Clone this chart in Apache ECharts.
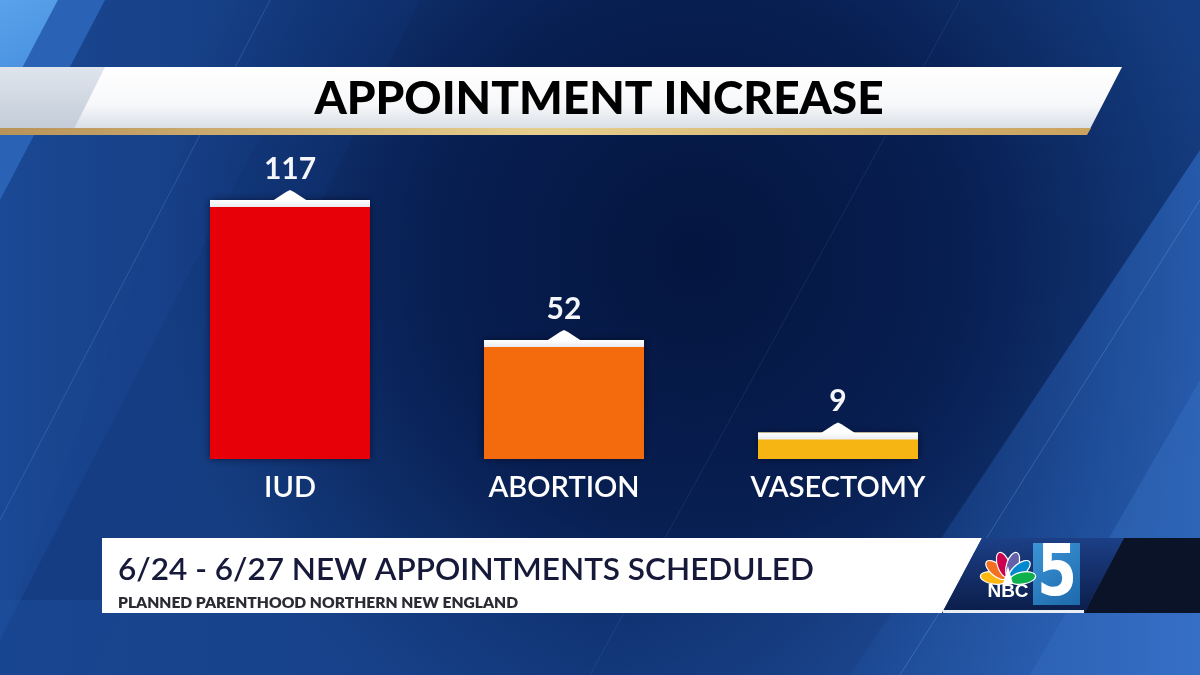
<!DOCTYPE html>
<html>
<head>
<meta charset="utf-8">
<title>Appointment Increase</title>
<script src="https://cdn.jsdelivr.net/npm/echarts/dist/echarts.min.js"></script>
<style>
  html, body { margin: 0; padding: 0; background: #0a2258; }
  #container { width: 1200px; height: 675px; }
</style>
</head>
<body>
<div id="container"></div>
<script>
var categories = ['IUD', 'ABORTION', 'VASECTOMY'];
var values = [117, 52, 9];
var barColors = ['#e80008', '#f36b0c', '#f7b514'];

var titleText = 'APPOINTMENT INCREASE';
var subTitleText = '6/24 - 6/27 NEW APPOINTMENTS SCHEDULED';
var sourceText = 'PLANNED PARENTHOOD NORTHERN NEW ENGLAND';

var LG = echarts.graphic.LinearGradient;
var RG = echarts.graphic.RadialGradient;

var myChart = echarts.init(document.getElementById('container'), null, { renderer: 'canvas' });

// bar with white cap and little peak on top
function renderBar(params, api) {
	var v = api.value(1);
	var top = api.coord([api.value(0), v]);
	var base = api.coord([api.value(0), 0]);
	var w = 160;
	var cx = top[0];
	var capH = 7;
	var capTop = top[1] - capH;
	return {
		type : 'group',
		children : [
			{
				type : 'rect',
				shape : { x : cx - w / 2, y : capTop, width : w, height : base[1] - capTop },
				style : { fill : barColors[params.dataIndex], shadowBlur : 8, shadowColor : 'rgba(0,0,20,0.55)' }
			},
			{
				type : 'rect',
				shape : { x : cx - w / 2, y : capTop, width : w, height : capH },
				style : { fill : new LG(0, 0, 0, 1, [{ offset : 0, color : '#ffffff' }, { offset : 1, color : '#e9ecf2' }]) }
			},
			{
				type : 'polygon',
				shape : { points : [[cx - 17, capTop + 0.5], [cx - 4, capTop - 8], [cx, capTop - 10], [cx + 4, capTop - 8], [cx + 17, capTop + 0.5]] },
				style : { fill : '#ffffff' }
			},
			{
				type : 'text',
				x : cx,
				y : capTop - 31,
				style : {
					text : String(v),
					fill : '#f4f6fa',
					fontFamily : 'Lato',
					fontWeight : 700,
					fontSize : 30,
					textAlign : 'center',
					textVerticalAlign : 'middle'
				}
			}
		]
	};
}

// NBC peacock feathers
var featherColors = ['#fcb711', '#f37021', '#cc004c', '#6460aa', '#0089d0', '#0db14b'];
var featherAngles = [-80, -50, -18, 18, 50, 80];
var peacock = [];
for (var i = 0; i < featherColors.length; i++) {
	var a = featherAngles[i] * Math.PI / 180;
	peacock.push({
		type : 'ellipse',
		x : 1008 + 15 * Math.sin(a),
		y : 581 - 17 * Math.cos(a),
		rotation : -a,
		shape : { cx : 0, cy : 0, rx : 6, ry : 13 },
		style : { fill : featherColors[i], stroke : '#ffffff', lineWidth : 1.2 },
		z : 5
	});
}
peacock.push({
	type : 'polygon',
	shape : { points : [[1003, 584], [1008, 566], [1013, 584]] },
	style : { fill : '#ffffff' },
	z : 6
});

var background = [
	{
		type : 'rect', z : -10, silent : true,
		shape : { x : 0, y : 0, width : 1200, height : 675 },
		style : { fill : new RG(0.58, 0.38, 0.8, [
			{ offset : 0, color : '#04153f' },
			{ offset : 0.5, color : '#081f52' },
			{ offset : 1, color : '#153e82' }
		]) }
	},
	// left stripes
	{
		type : 'polygon', z : -9, silent : true,
		shape : { points : [[100, 0], [330, 0], [0, 640], [0, 190]] },
		style : { fill : new LG(0, 0, 1, 0, [{ offset : 0, color : 'rgba(35,85,170,0.45)' }, { offset : 1, color : 'rgba(25,70,150,0.0)' }]) }
	},
	{
		type : 'polygon', z : -9, silent : true,
		shape : { points : [[240, 0], [420, 0], [90, 675], [0, 675], [0, 640]] },
		style : { fill : 'rgba(20,60,140,0.18)' }
	},
	{
		type : 'polygon', z : -8, silent : true,
		shape : { points : [[58, 0], [105, 0], [0, 200], [0, 110]] },
		style : { fill : '#2a63b6' }
	},
	{
		type : 'polygon', z : -8, silent : true,
		shape : { points : [[0, 0], [58, 0], [0, 110]] },
		style : { fill : new LG(0, 0, 1, 1, [{ offset : 0, color : '#5aa2ea' }, { offset : 1, color : '#3f88da' }]) }
	},
	// right stripes
	{
		type : 'polygon', z : -9, silent : true,
		shape : { points : [[1200, 150], [1200, 675], [850, 675]] },
		style : { fill : new LG(0, 0, 1, 0, [{ offset : 0, color : 'rgba(40,100,190,0.15)' }, { offset : 1, color : 'rgba(50,110,200,0.6)' }]) }
	},
	{
		type : 'polygon', z : -9, silent : true,
		shape : { points : [[1200, 380], [1200, 675], [1030, 675]] },
		style : { fill : 'rgba(70,130,215,0.25)' }
	},
	// bottom glow
	{
		type : 'rect', z : -9, silent : true,
		shape : { x : 0, y : 600, width : 1200, height : 75 },
		style : { fill : new LG(0, 0, 1, 0, [{ offset : 0, color : 'rgba(30,80,160,0.45)' }, { offset : 0.5, color : 'rgba(25,70,150,0.3)' }, { offset : 1, color : 'rgba(60,120,210,0.55)' }]) }
	},
	// thin light lines
	{
		type : 'line', z : -8, silent : true,
		shape : { x1 : 960, y1 : 0, x2 : 590, y2 : 675 },
		style : { stroke : 'rgba(120,170,240,0.12)', lineWidth : 1 }
	},
	{
		type : 'line', z : -8, silent : true,
		shape : { x1 : 1200, y1 : 200, x2 : 900, y2 : 675 },
		style : { stroke : 'rgba(140,190,250,0.25)', lineWidth : 1 }
	},
	{
		type : 'line', z : -8, silent : true,
		shape : { x1 : 270, y1 : 0, x2 : 0, y2 : 520 },
		style : { stroke : 'rgba(140,190,250,0.2)', lineWidth : 1 }
	}
];

var banners = [
	// top title banner
	{
		type : 'polygon', silent : true,
		shape : { points : [[0, 67], [1122, 67], [1090, 129], [0, 129]] },
		style : { fill : new LG(0, 0, 0, 1, [{ offset : 0, color : '#ffffff' }, { offset : 0.6, color : '#f7f8fa' }, { offset : 1, color : '#d9dfe7' }]) }
	},
	{
		type : 'polygon', silent : true,
		shape : { points : [[0, 67], [105, 67], [74, 129], [0, 129]] },
		style : { fill : new LG(0, 0, 0, 1, [{ offset : 0, color : '#dfe5ed' }, { offset : 1, color : '#c3ccd8' }]) }
	},
	{
		type : 'polygon', silent : true,
		shape : { points : [[0, 128], [1091, 128], [1087, 135], [0, 135]] },
		style : { fill : new LG(0, 0, 1, 0, [{ offset : 0, color : '#b8935a' }, { offset : 0.5, color : '#e6cf8e' }, { offset : 1, color : '#c9a25e' }]) }
	},
	{
		type : 'text', silent : true,
		style : {
			text : titleText, x : 599, y : 99,
			fill : new LG(0, 0, 0, 1, [{ offset : 0, color : '#2a3f7a' }, { offset : 1, color : '#13224f' }]),
			fontFamily : 'Lato', fontWeight : 900, fontSize : 46,
			textAlign : 'center', textVerticalAlign : 'middle'
		}
	},
	// bottom lower-third
	{
		type : 'polygon', silent : true,
		shape : { points : [[102, 538], [982, 538], [942, 613], [102, 613]] },
		style : { fill : '#ffffff' }
	},
	{
		type : 'polygon', silent : true,
		shape : { points : [[982, 538], [1124, 538], [1084, 613], [942, 613]] },
		style : { fill : new LG(0, 0, 0, 1, [{ offset : 0, color : '#1c3f86' }, { offset : 1, color : '#0b1d4a' }]) }
	},
	{
		type : 'polygon', silent : true,
		shape : { points : [[1124, 538], [1200, 538], [1200, 613], [1084, 613]] },
		style : { fill : '#0a1328' }
	},
	{
		type : 'rect', silent : true,
		shape : { x : 943, y : 610, width : 141, height : 3 },
		style : { fill : '#e8edf4' }
	},
	{
		type : 'text', silent : true,
		style : {
			text : subTitleText, x : 118, y : 570,
			fill : '#16193a',
			fontFamily : 'Lato', fontWeight : 600, fontSize : 31.5,
			textAlign : 'left', textVerticalAlign : 'middle'
		}
	},
	{
		type : 'text', silent : true,
		style : {
			text : sourceText, x : 118, y : 603,
			fill : '#2a2b33',
			fontFamily : 'Lato', fontWeight : 800, fontSize : 15.6,
			textAlign : 'left', textVerticalAlign : 'middle'
		}
	},
	// NBC 5 logo
	{
		type : 'text', silent : true, z : 5,
		style : {
			text : 'NBC', x : 1008, y : 592,
			fill : '#ffffff',
			fontFamily : 'Liberation Sans', fontWeight : 700, fontSize : 19,
			textAlign : 'center', textVerticalAlign : 'middle'
		}
	},
	{
		type : 'rect', silent : true, z : 5,
		shape : { x : 1033, y : 543, width : 47, height : 62 },
		style : { fill : new LG(0, 0, 1, 1, [{ offset : 0, color : '#3c95d6' }, { offset : 1, color : '#1d69ab' }]) }
	},
	{
		type : 'text', silent : true, z : 6,
		x : 1057, y : 576, scaleX : 0.8,
		style : {
			text : '5', x : 0, y : 0,
			fill : '#ffffff',
			fontFamily : 'DejaVu Sans', fontWeight : 700, fontSize : 72,
			textAlign : 'center', textVerticalAlign : 'middle'
		}
	}
];

var option = {
	backgroundColor : '#0a2258',
	animation : false,
	graphic : background.concat(banners).concat(peacock),
	grid : { left : 153, right : 225, top : 179, bottom : 216 },
	xAxis : {
		type : 'category',
		data : categories,
		axisLine : { show : false },
		axisTick : { show : false },
		axisLabel : {
			color : '#ffffff',
			fontFamily : 'Lato',
			fontWeight : 600,
			fontSize : 29,
			margin : 14,
			verticalAlign : 'top'
		}
	},
	yAxis : {
		type : 'value',
		min : 0,
		max : 130,
		show : false
	},
	series : [{
		type : 'custom',
		renderItem : renderBar,
		data : values.map(function(v, i) { return [i, v]; }),
		z : 10
	}]
};
myChart.setOption(option);
</script>
</body>
</html>
